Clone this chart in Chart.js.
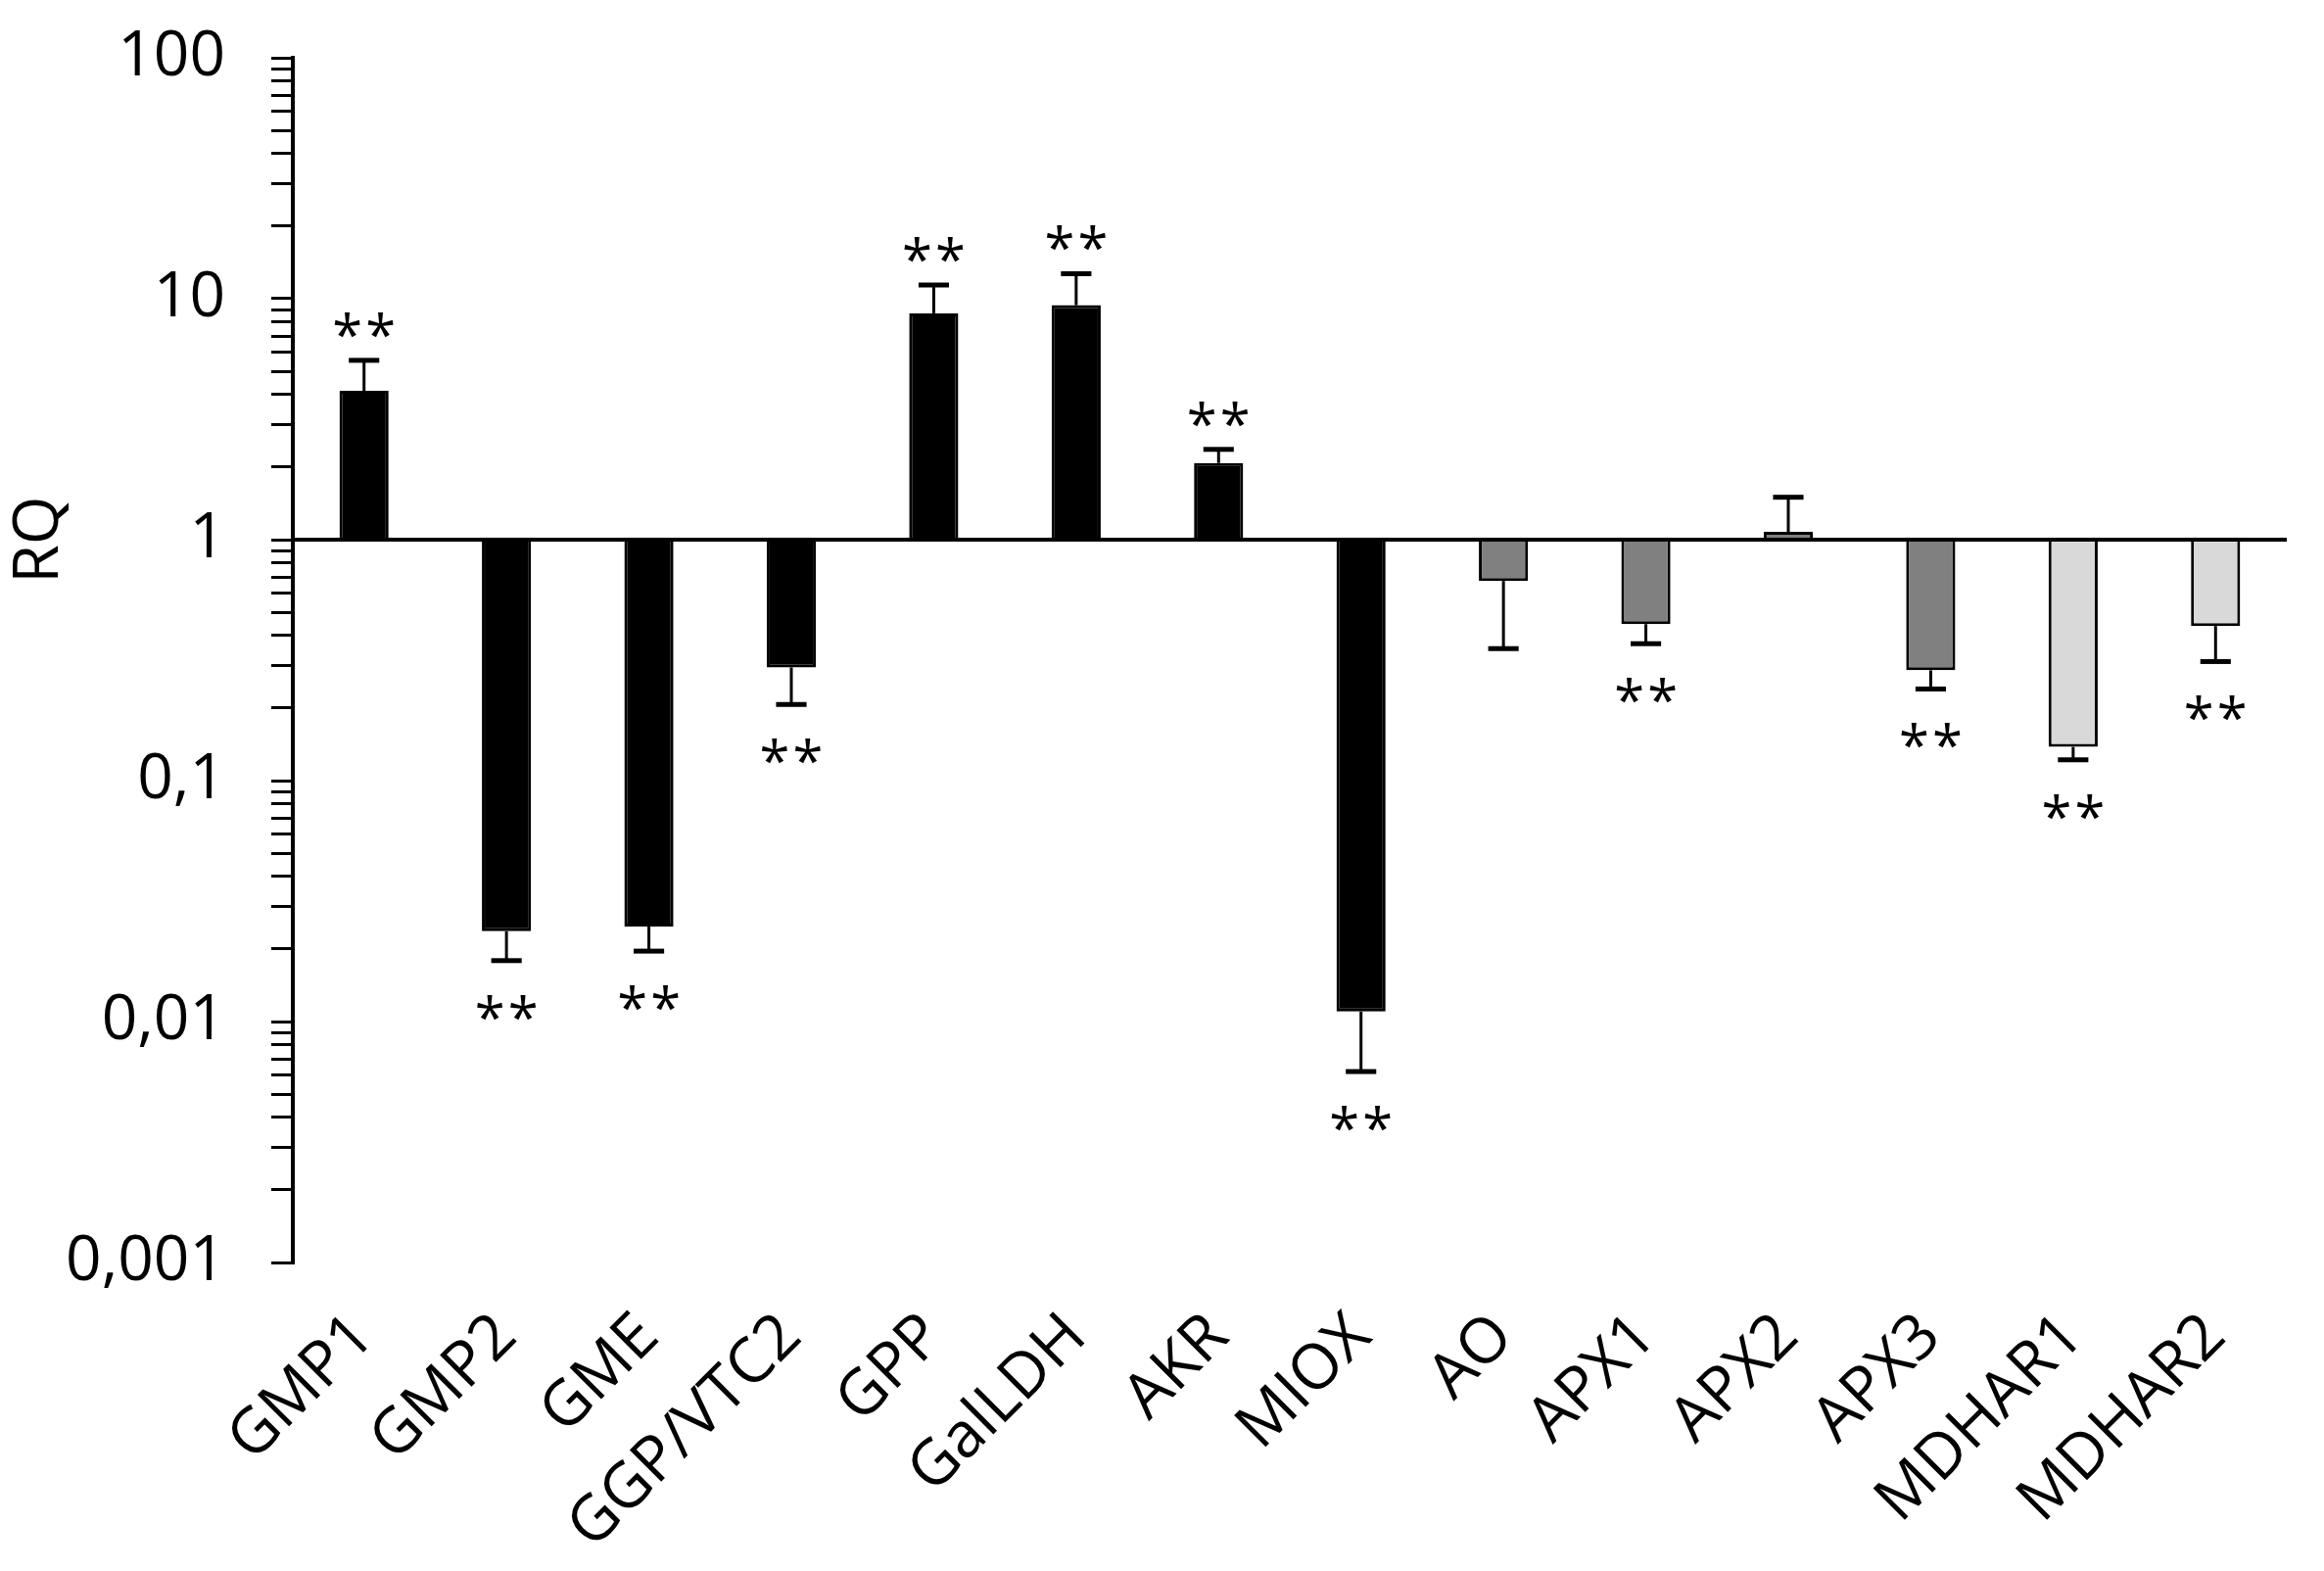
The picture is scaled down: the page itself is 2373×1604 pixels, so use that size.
<!DOCTYPE html>
<html>
<head>
<meta charset="utf-8">
<script src="https://cdn.jsdelivr.net/npm/chart.js@4.4.1/dist/chart.umd.min.js"></script>
<style>
  html, body { margin: 0; padding: 0; background: #fff; }
  #rqChart { display: block; }
</style>
</head>
<body>
<canvas id="rqChart" width="2373" height="1604"></canvas>
<script>
// datos
const genes = ['GMP1', 'GMP2', 'GME', 'GGP/VTC2', 'GPP', 'GalLDH', 'AKR', 'MIOX', 'AO', 'APX1', 'APX2', 'APX3', 'MDHAR1', 'MDHAR2'];
const rq = [4.15, 0.0237, 0.0248, 0.295, 8.7, 9.4, 2.08, 0.011, 0.674, 0.446, 1.078, 0.287, 0.138, 0.438];
const rqErrEnd = [5.55, 0.0179, 0.0196, 0.207, 11.4, 12.7, 2.37, 0.0062, 0.353, 0.37, 1.5, 0.24, 0.122, 0.312];
const signif = ['**', '**', '**', '**', '**', '**', '**', '**', '', '**', '', '**', '**', '**'];
const geneGroup = [0, 0, 0, 0, 0, 0, 0, 0, 1, 1, 1, 1, 2, 2];
const yTickValues = [0.001, 0.01, 0.1, 1, 10, 100];
const yTickLabels = ['0,001', '0,01', '0,1', '1', '10', '100'];

const groupColors = ['#000000', '#808080', '#d9d9d9'];
const FONT = '"Open Sans", sans-serif';

Chart.defaults.font.family = FONT;
Chart.defaults.color = '#000';

// barras de error, asteriscos, linea en 1 y titulo RQ
const annotate = {
  id: 'annotate',
  afterDatasetsDraw(chart) {
    const { ctx, chartArea, scales: { y } } = chart;
    const meta = chart.getDatasetMeta(0);
    const yOne = y.getPixelForValue(1);
    ctx.save();
    ctx.strokeStyle = '#000';
    ctx.fillStyle = '#000';
    ctx.textAlign = 'center';
    ctx.textBaseline = 'alphabetic';
    meta.data.forEach((bar, i) => {
      const yEnd = y.getPixelForValue(rqErrEnd[i]);
      const cap = bar.width * 0.31;
      ctx.lineWidth = 3;
      ctx.beginPath();
      ctx.moveTo(bar.x, bar.y);
      ctx.lineTo(bar.x, yEnd);
      ctx.stroke();
      ctx.lineWidth = 5;
      ctx.beginPath();
      ctx.moveTo(bar.x - cap, yEnd);
      ctx.lineTo(bar.x + cap, yEnd);
      ctx.stroke();
      if (signif[i]) {
        ctx.font = '56px ' + FONT;
        const m = ctx.measureText('*');
        const mid = (m.actualBoundingBoxAscent - m.actualBoundingBoxDescent) / 2;
        const cy = rq[i] >= 1 ? yEnd - 36 : yEnd + 48;
        const chars = signif[i].split('');
        const step = 34;
        chars.forEach((c, k) => {
          const cx = bar.x + (k - (chars.length - 1) / 2) * step;
          ctx.fillText(c, cx, cy + mid);
        });
      }
    });
    ctx.lineWidth = 4;
    ctx.beginPath();
    ctx.moveTo(chartArea.left, yOne);
    ctx.lineTo(chartArea.right, yOne);
    ctx.stroke();

    ctx.font = '64px ' + FONT;
    ctx.translate(41, yOne);
    ctx.rotate(-Math.PI / 2);
    ctx.textBaseline = 'middle';
    ctx.fillText('RQ', 0, 0);
    ctx.restore();
  }
};

new Chart(document.getElementById('rqChart').getContext('2d'), {
  type: 'bar',
  data: {
    labels: genes,
    datasets: [{
      label: 'RQ',
      data: rq,
      base: 1,
      backgroundColor: geneGroup.map(g => groupColors[g]),
      borderColor: '#000',
      borderWidth: 3,
      barPercentage: 0.345,
      categoryPercentage: 1
    }]
  },
  options: {
    responsive: false,
    devicePixelRatio: 1,
    animation: false,
    layout: { padding: { top: 59, right: 38, bottom: 0, left: 0 } },
    plugins: {
      legend: { display: false },
      tooltip: { enabled: false }
    },
    scales: {
      x: {
        grid: { display: false },
        border: { display: false },
        ticks: {
          autoSkip: false,
          maxRotation: 45,
          minRotation: 45,
          padding: 30,
          font: { size: 64 }
        },
        afterFit(scale) { scale.height = 315; }
      },
      y: {
        type: 'logarithmic',
        min: 0.001,
        max: 100,
        border: { display: true, color: '#000', width: 4 },
        grid: { drawOnChartArea: false, drawTicks: true, tickLength: 22, color: '#000', lineWidth: 3 },
        ticks: {
          autoSkip: false,
          padding: 47,
          font: { size: 64 },
          callback(value) {
            const k = yTickValues.indexOf(value);
            return k >= 0 ? yTickLabels[k] : '';
          }
        },
        afterBuildTicks(scale) {
          const ticks = [];
          yTickValues.forEach((v, k) => {
            ticks.push({ value: v });
            if (k < yTickValues.length - 1) {
              for (let m = 2; m <= 9; m++) ticks.push({ value: v * m });
            }
          });
          scale.ticks = ticks;
        },
        afterFit(scale) {
          scale.width = 299;
          scale.paddingTop = 30;
          scale.paddingBottom = 30;
        }
      }
    }
  },
  plugins: [annotate]
});
</script>
</body>
</html>
